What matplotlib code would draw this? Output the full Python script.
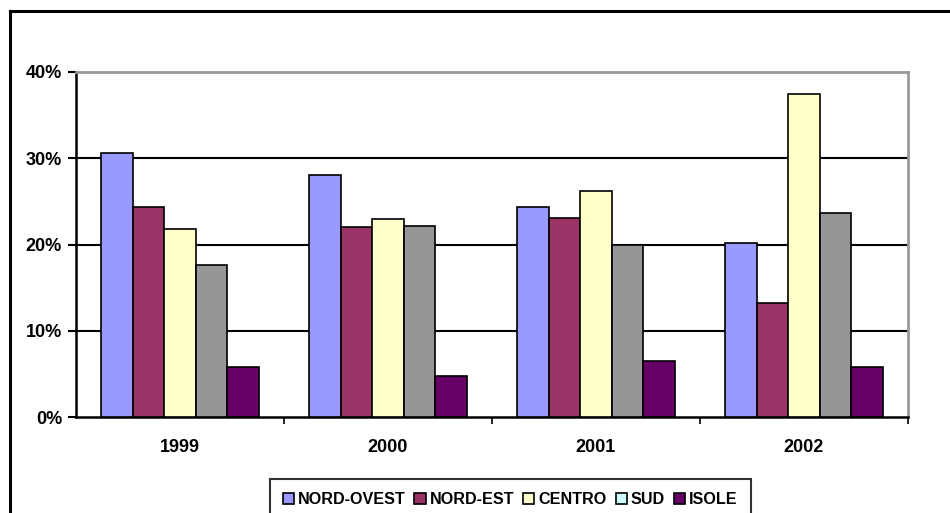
import matplotlib
matplotlib.use("Agg")
import matplotlib.pyplot as plt
import numpy as np
from matplotlib.patches import Patch
from matplotlib.lines import Line2D

years = ["1999", "2000", "2001", "2002"]
regions = ["NORD-OVEST", "NORD-EST", "CENTRO", "SUD", "ISOLE"]
nord_ovest = [30.6, 28.1, 24.3, 20.2]
nord_est = [24.3, 22.0, 23.1, 13.2]
centro = [21.8, 22.9, 26.2, 37.4]
sud = [17.6, 22.2, 19.9, 23.6]
isole = [5.8, 4.8, 6.5, 5.8]
series = [nord_ovest, nord_est, centro, sud, isole]
bar_colors = ["#9999FF", "#993366", "#FFFFCC", "#969696", "#660066"]
legend_colors = ["#9999FF", "#993366", "#FFFFCC", "#CCFFFF", "#660066"]
yticks = [0, 10, 20, 30, 40]
ytick_labels = ["0%", "10%", "20%", "30%", "40%"]

plt.rcParams['font.family'] = ['Liberation Sans', 'DejaVu Sans']
fig = plt.figure(figsize=(9.5, 5.13), dpi=100)
ax = fig.add_axes([76/950, 1-417/513, (908-76)/950, (417-72)/513])

x = np.arange(len(years))
w = 0.152
for i, (vals, c) in enumerate(zip(series, bar_colors)):
    ax.bar(x + (i-2)*w, vals, width=w, color=c, edgecolor="black", linewidth=1.2, zorder=3)

ax.set_xlim(-0.5, 3.5)
ax.set_ylim(0, 40)
ax.set_yticks(yticks)
ax.set_yticklabels(ytick_labels, fontsize=13, fontweight="bold")
ax.set_xticks(x)
ax.set_xticklabels(years, fontsize=13, fontweight="bold")
ax.set_xticks([0.5, 1.5, 2.5, 3.5], minor=True)
ax.tick_params(axis="x", which="major", length=0, pad=16)
ax.tick_params(axis="x", which="minor", length=5, width=1.2, direction="out", color="black")
ax.tick_params(axis="y", length=6, width=1.5, direction="out", pad=4)
for yv in [10, 20, 30]:
    ax.axhline(yv, color="black", linewidth=1.5, zorder=1)
ax.spines["left"].set_linewidth(1.8)
ax.spines["bottom"].set_linewidth(1.8)
ax.spines["top"].set_color("#999999")
ax.spines["right"].set_color("#999999")
ax.spines["top"].set_linewidth(2)
ax.spines["right"].set_linewidth(2)

handles = [Patch(facecolor=c, edgecolor="black", linewidth=1.2, label=r) for c, r in zip(legend_colors, regions)]
leg = fig.legend(handles=handles, loc="upper center", bbox_to_anchor=(0.537, 1-479/513),
                 bbox_transform=fig.transFigure, ncol=5, frameon=True, fancybox=False,
                 prop={"weight": "bold", "size": 11.6}, handlelength=0.7, handleheight=0.7,
                 handletextpad=0.25, columnspacing=0.55, borderpad=0.8, borderaxespad=0)
leg.get_frame().set_edgecolor("black")
leg.get_frame().set_linewidth(1.5)

fig.add_artist(Line2D([10/950, 1.02], [1-11/513, 1-11/513], transform=fig.transFigure, color="black", linewidth=2.2))
fig.add_artist(Line2D([10/950, 10/950], [1-11/513, -0.02], transform=fig.transFigure, color="black", linewidth=2.2))

fig.savefig("out.png", dpi=100)
